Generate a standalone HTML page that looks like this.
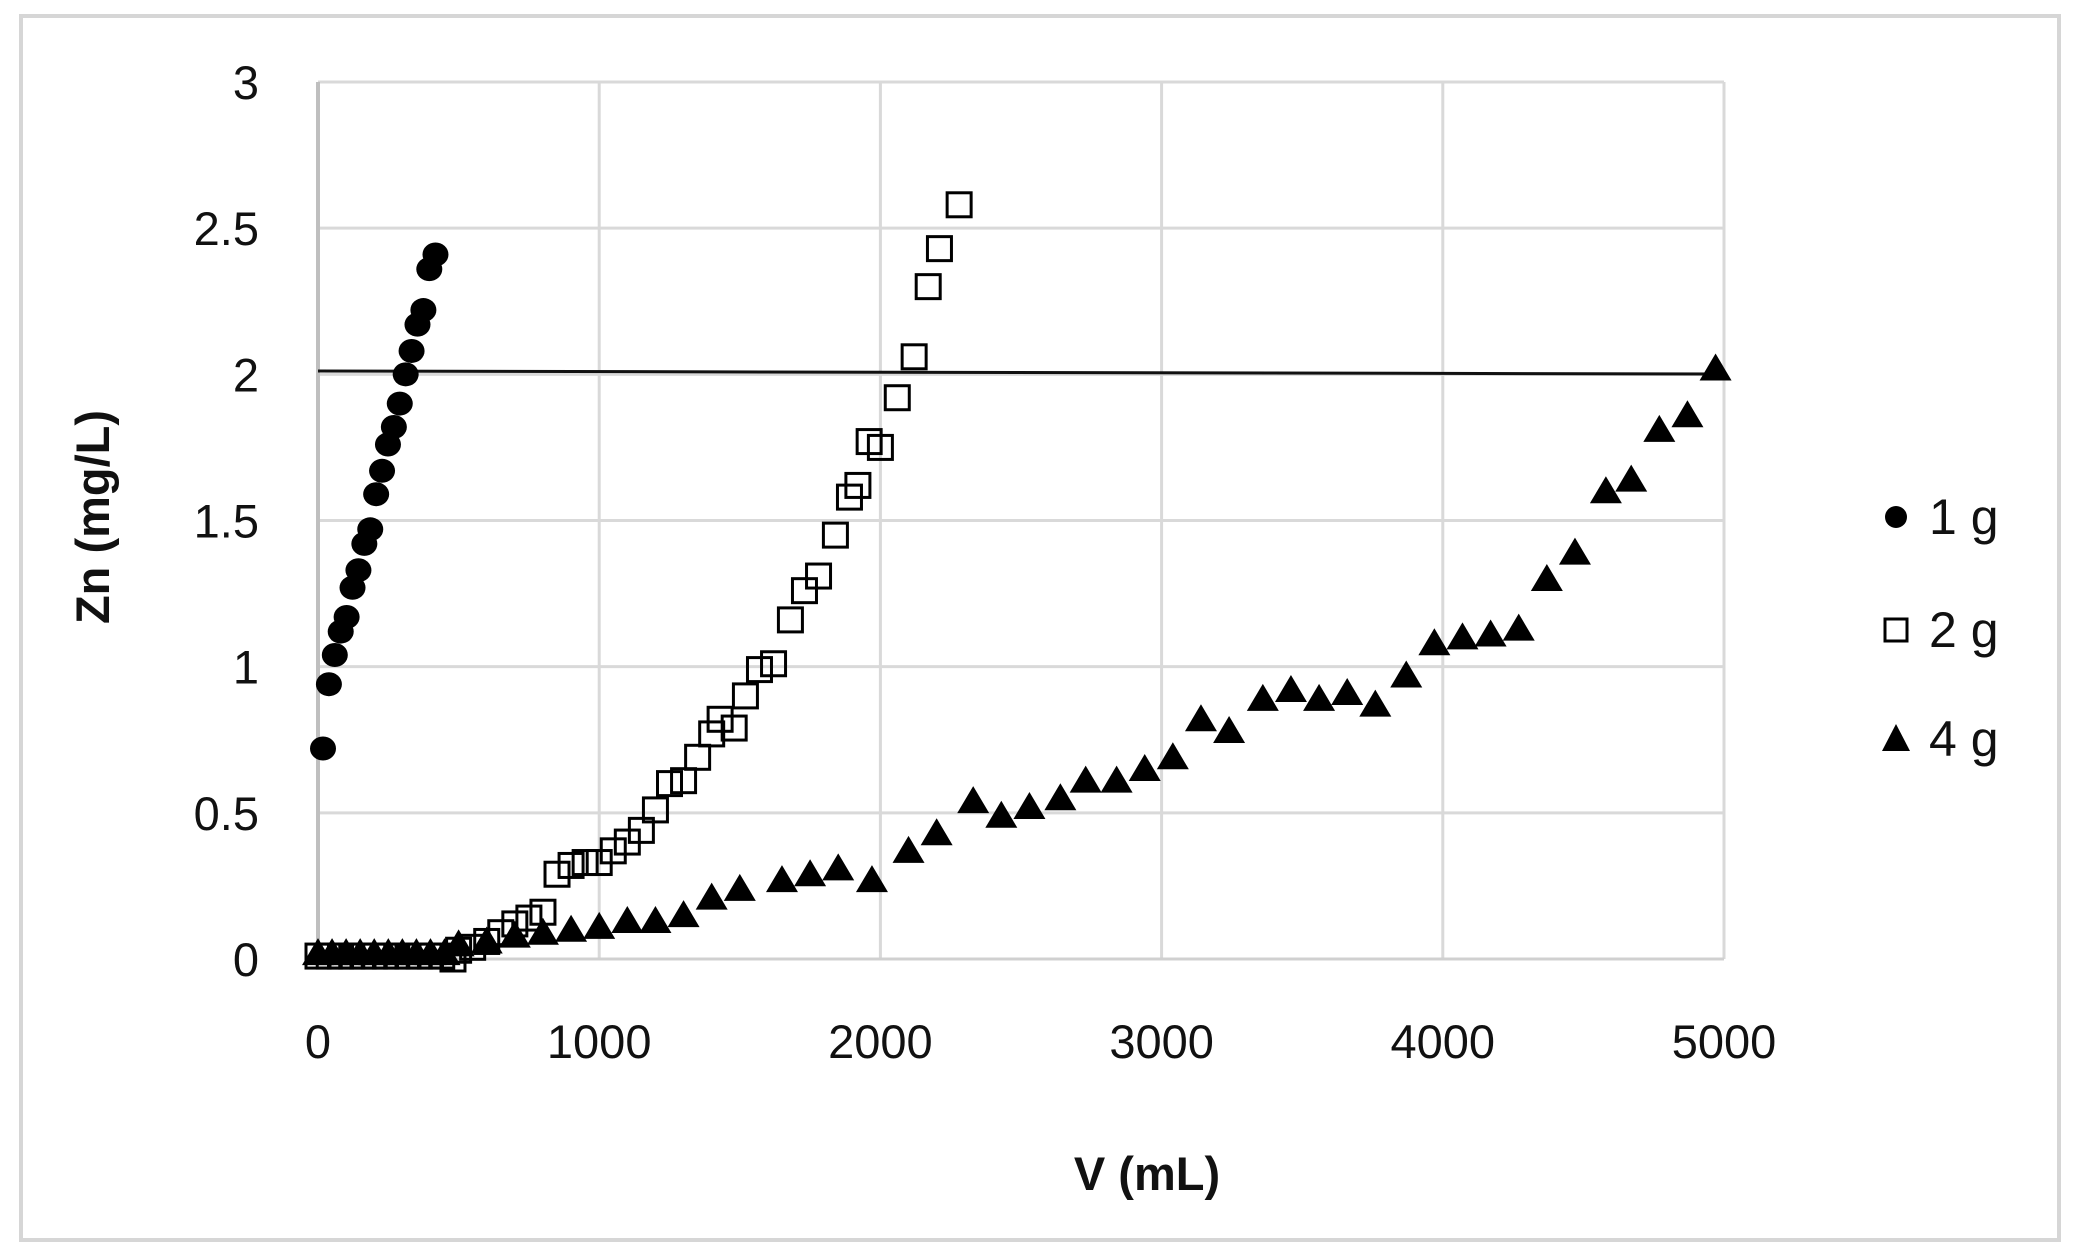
<!DOCTYPE html>
<html><head><meta charset="utf-8"><style>
html,body{margin:0;padding:0;background:#fff}
svg{display:block}
text{font-family:"Liberation Sans",sans-serif;fill:#111}
</style></head><body>
<svg id="s" width="2079" height="1258" xmlns="http://www.w3.org/2000/svg">
<rect x="21" y="16" width="2038" height="1224" fill="#fff" stroke="#d6d6d6" stroke-width="4"/>
<g id="grid" stroke="#d9d9d9" stroke-width="3"></g>
<line x1="318" y1="82" x2="318" y2="959" stroke="#bfbfbf" stroke-width="4"/>
<line x1="318" y1="959" x2="1724" y2="959" stroke="#d0d0d0" stroke-width="3"/>
<line x1="318" y1="371" x2="1724" y2="374" stroke="#111" stroke-width="3"/>
<g id="lab" font-size="47"></g>
<text x="1147" y="1190" font-size="47" font-weight="bold" text-anchor="middle">V (mL)</text>
<text transform="translate(109,517) rotate(-90)" font-size="47" font-weight="bold" text-anchor="middle">Zn (mg/L)</text>
<g id="pts"></g>
<circle cx="1896" cy="517" r="11" fill="#000"/>
<text x="1929" y="534" font-size="50">1 g</text>
<rect x="1885" y="619" width="22" height="22" fill="#fff" stroke="#000" stroke-width="3"/>
<text x="1929" y="647" font-size="50">2 g</text>
<polygon points="1896,724 1910,751 1882,751" fill="#000"/>
<text x="1929" y="756" font-size="50">4 g</text>
</svg>
<script>
var NS="http://www.w3.org/2000/svg";
function X(v){return 318+v*0.2812}
function Y(v){return 959-v*292.33}
function el(p,t,a){var e=document.createElementNS(NS,t);for(var k in a)e.setAttribute(k,a[k]);document.getElementById(p).appendChild(e);return e}
for(var i=1;i<=5;i++)el("grid","line",{x1:X(i*1000),y1:82,x2:X(i*1000),y2:959});
for(var j=1;j<=6;j++)el("grid","line",{x1:318,y1:Y(j*0.5),x2:1724,y2:Y(j*0.5)});
var yl=["0","0.5","1","1.5","2","2.5","3"];
for(var j=0;j<7;j++){var t=el("lab","text",{x:259,y:Y(j*0.5)+17,"text-anchor":"end"});t.textContent=yl[j];}
for(var i=0;i<=5;i++){var t=el("lab","text",{x:X(i*1000),y:1058,"text-anchor":"middle"});t.textContent=String(i*1000);}
var g4=[];for(var v=0;v<=450;v+=50)g4.push([v,0.02]);
g4=g4.concat([[500,0.05],[600,0.06],[700,0.08],[800,0.09],[900,0.1],[1000,0.11],[1100,0.13],[1200,0.13],[1300,0.15],[1400,0.21],[1500,0.24],[1650,0.27],[1750,0.29],[1850,0.31],[1970,0.27],[2100,0.37],[2200,0.43],[2330,0.54],[2430,0.49],[2530,0.52],[2640,0.55],[2730,0.61],[2840,0.61],[2940,0.65],[3040,0.69],[3140,0.82],[3240,0.78],[3360,0.89],[3460,0.92],[3560,0.89],[3660,0.91],[3760,0.87],[3870,0.97],[3970,1.08],[4070,1.1],[4170,1.11],[4270,1.13],[4370,1.3],[4470,1.39],[4580,1.6],[4670,1.64],[4770,1.81],[4870,1.86],[4970,2.02]]);
g4.forEach(function(p){var x=X(p[0]),y=Y(p[1]);el("pts","polygon",{points:x+","+(y-15)+" "+(x+16)+","+(y+12)+" "+(x-16)+","+(y+12),fill:"#000"});});
var g2=[];for(var v=0;v<=450;v+=40)g2.push([v,0.01]);
g2=g2.concat([[480,0.0],[500,0.03],[550,0.04],[600,0.06],[650,0.09],[700,0.12],[750,0.14],[800,0.16],[850,0.29],[900,0.32],[950,0.33],[1000,0.33],[1050,0.37],[1100,0.4],[1150,0.44],[1200,0.51],[1250,0.6],[1300,0.61],[1350,0.69],[1400,0.77],[1430,0.82],[1480,0.79],[1520,0.9],[1570,0.99],[1620,1.01],[1680,1.16],[1730,1.26],[1780,1.31],[1840,1.45],[1890,1.58],[1920,1.62],[1960,1.77],[2000,1.75],[2060,1.92],[2120,2.06],[2170,2.3],[2210,2.43],[2280,2.58]]);
g2.forEach(function(p){var x=X(p[0]),y=Y(p[1]);el("pts","rect",{x:x-12,y:y-12,width:24,height:24,fill:"none",stroke:"#000","stroke-width":3});});
var g1=[[0,0.72],[21,0.94],[42,1.04],[63,1.12],[84,1.17],[105,1.27],[126,1.33],[147,1.42],[168,1.47],[189,1.59],[210,1.67],[231,1.76],[252,1.82],[273,1.9],[294,2.0],[315,2.08],[336,2.17],[357,2.22],[378,2.36],[400,2.41]];
g1.forEach(function(p){el("pts","ellipse",{cx:X(p[0])+5,cy:Y(p[1]),rx:13,ry:12,fill:"#000"});});
</script>
</body></html>
